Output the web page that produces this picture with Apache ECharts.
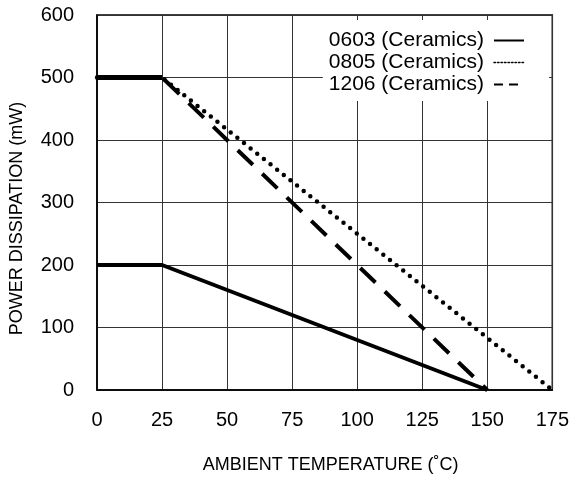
<!DOCTYPE html>
<html>
<head>
<meta charset="utf-8">
<script src="https://cdn.jsdelivr.net/npm/echarts@6/dist/echarts.min.js"></script>
<style>
html,body{margin:0;padding:0;background:#fff;}
#c{width:572px;height:481px;}
</style>
</head>
<body>
<div id="c"></div>
<script>
var seriesNames = ['0603 (Ceramics)', '0805 (Ceramics)', '1206 (Ceramics)'];
var temp0603 = [0, 25, 150];
var power0603 = [200, 200, 0];
var temp0805 = [0, 25, 175];
var power0805 = [500, 500, 0];
var temp1206 = [0, 25, 150];
var power1206 = [500, 500, 0];
var xTicks = [0, 25, 50, 75, 100, 125, 150, 175];
var yTicks = [0, 100, 200, 300, 400, 500, 600];

function pairs(xs, ys) { return xs.map(function (x, i) { return [x, ys[i]]; }); }

var font = 'Liberation Sans, Arial, sans-serif';
var hiddenSym = { opacity: 0, color: 'rgba(0,0,0,0)', borderWidth: 0 };
var chart = echarts.init(document.getElementById('c'));
chart.setOption({
  backgroundColor: '#fff',
  animation: false,
  grid: { left: 96, right: 17, top: 15, bottom: 91, show: true, borderColor: '#000', borderWidth: 1.5 },
  xAxis: {
    type: 'value', min: xTicks[0], max: xTicks[xTicks.length - 1], interval: 25,
    name: 'AMBIENT TEMPERATURE (˚C)', nameLocation: 'middle', nameGap: 66,
    nameTextStyle: { fontFamily: font, fontSize: 18, color: '#000', padding: [0, 0, 0, 12] },
    axisLine: { show: true, lineStyle: { color: '#000', width: 1.5 } },
    axisTick: { show: false },
    axisLabel: { fontFamily: font, fontSize: 20, color: '#000', margin: 20 },
    splitLine: { show: true, lineStyle: { color: '#333', width: 1 } }
  },
  yAxis: {
    type: 'value', min: yTicks[0], max: yTicks[yTicks.length - 1], interval: 100,
    name: 'POWER DISSIPATION (mW)', nameLocation: 'middle', nameGap: 71,
    nameTextStyle: { fontFamily: font, fontSize: 18, color: '#000', padding: [0, 32, 0, 0] },
    axisLine: { show: true, lineStyle: { color: '#000', width: 1.5 } },
    axisTick: { show: false },
    axisLabel: { fontFamily: font, fontSize: 20, color: '#000', margin: 23 },
    splitLine: { show: true, lineStyle: { color: '#333', width: 1 } }
  },
  legend: {
    orient: 'vertical', align: 'right', right: 23, top: 20,
    backgroundColor: '#fff',
    padding: [10, 24, 6, 6],
    itemWidth: 30, itemHeight: 14, itemGap: 1,
    textStyle: { fontFamily: font, fontSize: 21, color: '#000', padding: [0, 5, 0, 0] },
    data: [
      { name: seriesNames[0], itemStyle: hiddenSym, lineStyle: { color: '#000', width: 2, type: 'solid' } },
      { name: seriesNames[1], itemStyle: hiddenSym, lineStyle: { color: '#000', width: 1.5, type: [1.5, 2] } },
      { name: seriesNames[2], itemStyle: hiddenSym, lineStyle: { color: '#000', width: 2, type: [9, 6] } }
    ]
  },
  series: [
    {
      name: seriesNames[0], type: 'line', data: pairs(temp0603, power0603), symbol: 'none',
      lineStyle: { color: '#000', width: 4, type: 'solid' }, itemStyle: { color: '#000' }, z: 3
    },
    {
      name: seriesNames[1], type: 'line', data: pairs(temp0805, power0805), symbol: 'none',
      lineStyle: { color: '#000', width: 4.5, type: [0, 8.5], cap: 'round' }, itemStyle: { color: '#000' }, z: 2
    },
    {
      name: seriesNames[2], type: 'line', data: pairs(temp1206, power1206), symbol: 'none',
      lineStyle: { color: '#000', width: 4, type: [21, 13] }, itemStyle: { color: '#000' }, z: 2
    },
    {
      name: 'flat', type: 'line', data: pairs(temp1206.slice(0, 2), power1206.slice(0, 2)), symbol: 'none',
      lineStyle: { color: '#000', width: 5, type: 'solid' }, itemStyle: { color: '#000' }, z: 3, silent: true
    }
  ]
});
</script>
</body>
</html>
